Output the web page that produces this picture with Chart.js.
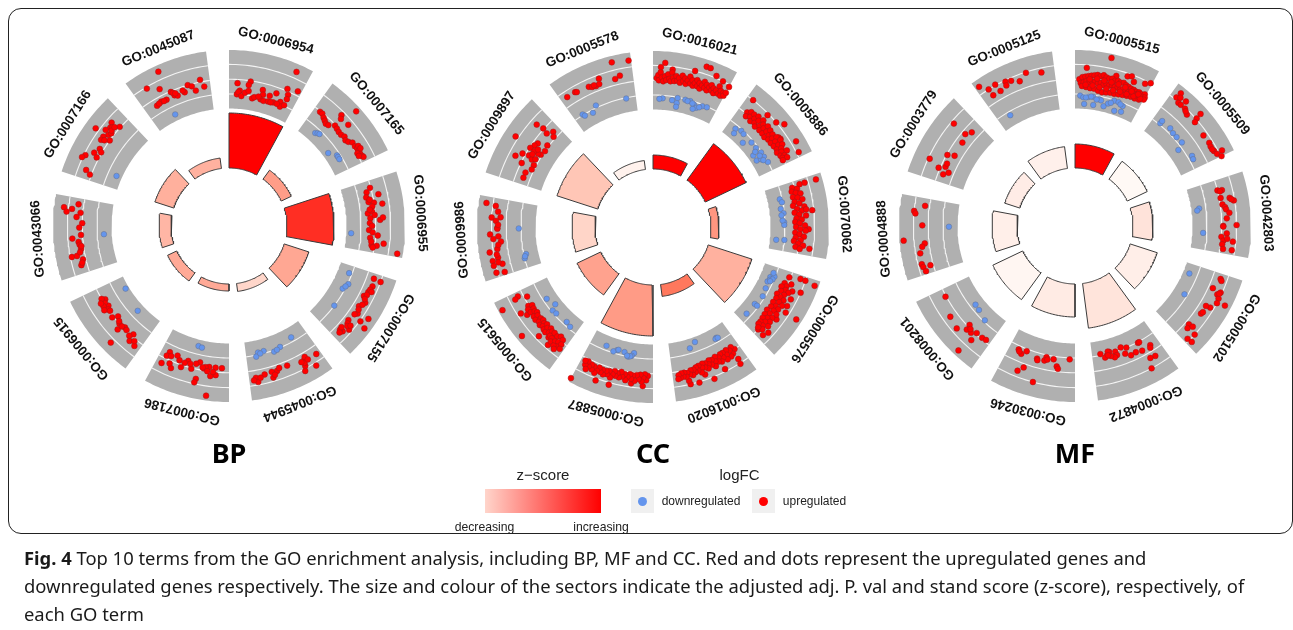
<!DOCTYPE html>
<html><head><meta charset="utf-8">
<style>
html,body{margin:0;padding:0;background:#fff;width:1293px;height:630px;overflow:hidden;font-family:"Liberation Sans",Arial,sans-serif}
canvas{position:absolute;left:0;top:0;display:block}
.t{position:absolute;white-space:nowrap;color:#111}
.c{transform:translate(-50%,-50%)}
#frame{position:absolute;left:8px;top:8px;width:1283px;height:524px;border:1px solid #222;border-radius:13px}
#cap{position:absolute;left:24px;top:544px;font:18.4px/28px "Noto Sans",sans-serif;color:#1a1a1a;white-space:nowrap}
</style></head><body>
<div id="frame"></div>
<canvas id="c" width="1293" height="630"></canvas>
<div id="cap"><b>Fig. 4</b> Top 10 terms from the GO enrichment analysis, including BP, MF and CC. Red and dots represent the upregulated genes and<br>downregulated genes respectively. The size and colour of the sectors indicate the adjusted adj. P. val and stand score (z-score), respectively, of<br>each GO term</div>
<script src="https://cdn.jsdelivr.net/npm/chart.js@4"></script>
<script>
const panels = ["BP","CC","MF"];
const bpTerms = ["GO:0006954","GO:0007165","GO:0006955","GO:0007155","GO:0045944","GO:0007186","GO:0006915","GO:0043066","GO:0007166","GO:0045087"];
const ccTerms = ["GO:0016021","GO:0005886","GO:0070062","GO:0005576","GO:0016020","GO:0005887","GO:0005615","GO:0009986","GO:0009897","GO:0005578"];
const mfTerms = ["GO:0005515","GO:0005509","GO:0042803","GO:0005102","GO:0004872","GO:0030246","GO:0008201","GO:0004888","GO:0003779","GO:0005125"];
const bpSize = [55,11,47,26,8,7,10,12,20,10.5];
const ccSize = [14,45,8,46,12,51,26,23,43,9];
const mfSize = [24,22,20,28.5,45,33,33,25,16,22];
const bpZ = [1,.57,.9,.53,.26,.52,.52,.45,.49,.48];
const ccZ = [1,1,.6,.48,.73,.58,.55,.27,.36,.06];
const mfZ = [1,.01,.17,.09,.16,.11,.03,.08,.1,.07];

const bpUp = [
[83,4.9,12,1.5,30,1.9,28,1.4,16,.5,12,0,14,.3,19,-.2,24,.3,29,.6,36,-.3,39,-.1,49,1.1,51,.5,49,-.2,54,-.3,61,.6,69,1.2,61,-.2,69,-.1,65,-.2,81,2.3,95,2.6,85,1.6,86,1,79,.3,81,-.3,86,.1,75,-.1,45,.1],
[9,1.9,13,1.9,18,1.6,22,1.4,26,1.2,30,1.3,37,1.9,42,1.8,47,1.7,52,1.7,57,1.9,62,1.7,66,1.9,33,3.5,36,3.1,48,3.3,42,5.3,70,2.3,76,2.3,80,2.4,84,2.4,88,2.4,92,2.5,94,2.6,86,2.1,90,2.1,78,2.7,82,2.8],
[15,1.3,10,1.9,22,1.1,29,1.3,31,2,36,1.7,21,2.8,34,3.1,45,1,43,1.6,55,2.6,52,3,52,1.3,59,1.2,69,1.1,76,2.3,80,1.3,90,1.6,90,2.3,86,3.2,96,5.2,26,1.5,40,1.3,48,1.9,63,1.5,72,1.6,85,1.5,93,1.8],
[7,3,8,4,17,3.2,26,3,33,2.7,40,3.3,48,2.8,57,3.2,71,2.7,63,4.1,55,4.8,67,5.1,80,3.6,87,3.1,88,2.7,22,3.1,24,3.4,30,3,36,3,44,3.1,52,3,60,2.9,75,2.9,84,2.6,91,2.9,78,3.1,75,3.4],
[6,3.1,14,4.4,23,2.9,26,3.7,29,4.3,47,2.6,62,2.8,69,2.7,69,3.5,79,2.8,91,3,89,3.6,21,2.6,25,3.3,19,3.1,28,3,58,2.5,66,3.2,85,3.1,94,3.3],
[10,1.4,18,2.4,25,2.6,19,1.4,28,1.4,35,1.7,33,1.5,42,1,47,1.3,43,3.3,44,3.8,52,2.1,59,1.2,66,2.3,71,1.5,78,2.9,76,1,88,1,92,2.8,90,1.6,27,5.3,37,1.6,22,2,30,2,55,1.5,63,1.6,84,1.4,82,2.4],
[82,1.6,72,1.7,56,2.2,52,1.5,39,2.7,43,2,34,1.8,19,1.7,17,2.7,8,2.8,33,4.6,78,1.9,75,2.3,68,2,85,2,70,2.5,80,2.4,38,2,46,1.8,30,1.9,22,2.2,12,2.3,65,1.9],
[86,4.6,85,3.5,81,4.2,92,2.7,81,2.3,75,2.8,67,2,61,2.4,47,3.4,51,2.2,42,2.6,32,2.4,24,3.8,24,3.1,18,2.4,11,2.8,38,2.5,36,2.3,14,2.6,28,2.6],
[64,4.5,82,3.3,85,2.1,76,3,67,2.6,61,3,71,2.4,62,2,56,3,45,2.5,37,2.9,42,2.1,29,3.8,25,4.1,33,2.3,12,2.9,8,2.2,78,2.8,74,2.6,80,2.6,58,2.6,70,3.3],
[40,5.1,18,3.8,32,2.9,18,1.1,26,1.3,34,1.2,22,1.2,30,1.2,44,1.9,47,1.3,51,1.1,62,1.2,69,2,74,1.7,78,1,87,2.3,91,1.3,46,1.7,60,1.5,49,1.5]];
const bpDown = [[],[24,-.7,27,-.5,30,-.4,62,-1.2,73,-.4,76,-.4,80,-.4],[75,-1.3],[12,-.4,28,.1,38,-.3,67,0,33,-.1],[24,-.6,46,-.1,57,.2,72,-.3,81,-.3,85,.2,52,.1,78,-.1],[50,-1.1,44,-1],[80,-1.5,39,-1],[50,-.9],[21,-1.2],[36,-1.1]];

const ccUp = [
[15,4.4,10,3.8,25,3.6,53,4,65,5,70,5,80,4.3,90,4,100,3.7,5,2.3,7,2.7,8,2,10,3.1,12,2.4,14,1.9,16,2.6,18,2.1,20,2.9,22,2.3,24,2,25,3.2,27,2.5,29,2.1,31,2.8,33,2.2,35,2.6,37,2,39,3,41,2.3,43,2.7,45,2,47,2.5,49,3.1,51,2.2,53,2.7,55,2,57,2.4,59,2.9,61,2.1,63,2.6,65,1.9,67,2.4,69,3,71,2.2,73,2.7,75,2,77,2.5,79,2.9,81,2.2,83,2.6,85,2,87,2.5,89,3.2,91,2.2,93,2.7,95,2.1,97,2.6,99,2.3,100,2.8],
[8,4,34,3.8,48,4,56,4.7,81,4.7,94,4.3,65,3,68,3.1,12,2.2,14,1.7,16,2.6,19,2,21,2.6,23,1.6,25,2.2,27,2.8,29,1.8,31,2.4,33,1.5,35,2.9,37,2,39,2.5,41,1.6,43,2.2,45,2.8,47,1.6,49,2.2,51,2.7,53,1.5,55,2.1,57,2.6,59,1.7,61,2.2,63,2.8,65,1.7,67,2.3,69,3,71,1.8,73,2.4,75,2.9,77,1.9,79,2.5,81,1.7,83,2.3,85,3,87,1.9,89,2.4,91,2,93,2.6,94,1.9],
[6,2.8,6,3.5,6,5.1,42,3.8,66,3.2,91,3.5,8,1.7,11,2.3,13,1.5,16,2,18,2.6,21,1.5,23,2.1,26,2.7,28,1.6,31,2.2,33,1.3,36,2.8,38,1.8,41,2.4,43,1.4,46,2,48,2.9,51,1.6,53,2.3,56,1.4,58,2,61,2.7,63,1.5,66,2.1,68,2.8,71,1.4,73,2,76,2.6,78,1.5,81,2.2,83,1.3,86,1.9,88,2.6,91,1.6,93,2.2,40,3],
[8,1.8,16,2.4,5,3.3,5,4,7,5.4,21,4,24,2.9,34,3.2,44,3.2,52,3.5,52,5.2,66,3,93,3,92,2,86,3.3,18,1.5,21,1.9,24,1.3,26,2,28,2.5,30,1.5,33,2.1,36,1.2,38,1.8,40,2.4,42,1.4,45,2,47,2.6,49,1.3,52,1.9,54,2.4,56,1.4,59,2,61,2.6,63,1.2,65,1.8,68,2.4,70,1.3,72,1.9,74,2.5,76,1.4,78,2,80,2.7,82,1.5,84,2.1,86,1.5,88,2.4,90,1.8],
[11,3.4,12,4.1,32,3.7,49,4.3,58,3.3,68,4.1,79,4,80,3.5,8,2,11,1.5,13,2.4,15,1.8,17,2.6,19,1.5,21,2.1,23,2.7,25,1.6,27,2.2,29,1.6,31,2.6,33,1.9,35,2.4,37,1.6,39,2.2,41,2.8,43,1.8,45,2.4,47,1.7,49,2.2,51,2.7,53,1.9,55,2.4,57,1.8,59,2.3,61,2.9,63,1.9,65,2.5,67,2,69,2.6,71,2.2,73,2.9,75,2.2,77,2.7,80,2.4,82,2.9,84,2.3,86,2.8,88,2.3,90,2.9,92,2.5,93,3],
[13,3.7,28,3.5,55,4.3,72,4.3,100,5.4,17,2.5,7,2.3,9,2.9,11,2.1,13,2.6,15,3.1,17,2.2,19,2.8,22,2.3,24,3.1,27,2.4,29,2.9,31,2.3,34,2.7,36,3.2,38,2.4,41,2.8,43,2.2,45,3,48,2.5,50,2.9,52,2.3,54,2.8,56,3.3,59,2.5,61,3,63,2.6,66,3.2,68,2.6,70,3,73,2.5,75,3,77,3.4,80,2.6,82,3.1,84,2.5,87,2.9,90,2.3,92,2.9,94,2.4,89,3.4],
[94,2.7,92,3.2,88,1.6,73,3.5,67,2.9,88,5.4,50,5.2,36,3.5,20,3.5,26,2.7,22,1.9,76,2.1,74,1.6,72,2.4,69,1.7,67,2.3,65,1.8,62,1.6,60,2.3,58,1.8,55,2.4,52,1.7,50,2.2,48,1.6,46,2.4,44,1.8,42,2.2,40,1.6,38,2.4,36,1.9,34,2.5,32,1.6,30,2.2,28,1.8,26,2.4,24,1.7,22,2.5,20,2.9,18,1.8,16,2.5,14,1.5,12,2.3,10,2.9,9,1.7,7,2.3,5,2.9,14,3.1,11,3.4],
[92,4.9,90,3.6,83,3.2,75,4,71,3.4,76,2.8,62,3.2,61,3.2,54,4.2,51,3.1,48,3.8,44,2.8,32,4.5,35,3.4,21,4.3,24,3.5,15,3.1,6,4.2,4,3.1,15,4.3,40,3.2,28,3.6,18,3.6,66,3.1],
[54,4.4,82,3.1,84,2.1,82,1.3,90,.8,85,.3,69,.2,63,1.4,58,1.6,52,1.9,60,0,52,.2,51,.6,51,1.2,33,3.1,40,2.4,42,1.5,39,.9,42,.5,28,1.9,33,.3,26,.3,18,.9,10,.9,56,.9,46,1.2],
[77,5.1,97,4.9,9,3.2,21,3.2,23,3.1,40,3,44,2.8,49,2.7,54,2.8,56,3.5,76,2.8,83,3.1,47,2.9]];
const ccDown = [
[15,-.4,10,-.5,30,-.5,38,-.1,38,-.8,38,-1.3,50,-.1,58,-.1,65,-.4,70,-.7,65,-1,78,-.2,85,-.1,54,-.2,62,-.3,74,-.5],
[14,-.5,17,-1.1,23,-.2,29,-.3,38,-1.2,47,-.3,58,-.3,65,-1.2,68,-.1,75,-1.2,76,-.1,86,0,77,-.6,71,-.5,80,-.4,62,-.7],
[20,-.3,25,-.1,35,-.4,42,-.1,56,-.1,60,-.1,83,0,84,-1.1,53,-.3,45,-.4],
[18,-.6,13,-.3,26,-.7,22,-.5,37,-.5,50,-.3,67,-.6,67,-.2,87,-.6,15,-.1,20,-.2,24,-.4,10,-.4],
[22,-.6,24,-.5,56,-1.3,67,-.7,20,-.5],
[30,-.6,33,-.2,38,0,45,-.5,57,-.5,62,-.2,75,-.6,35,-.1,40,-.1,55,-.6],
[70,-.5,55,-1,50,-.2,43,-.3,22,-.5,13,-.3],
[61,.3,21,-.3,15,0,18,-.1],
[],
[85,-.1,38,.3,29,-.4,14,.1,16,-.2]];

const mfUp = [
[43,5.4,15,3.6,54,3.2,68,3.6,73,3.8,78,3.2,92,3.6,98,4,6,2,10,2.3,14,2.4,18,2.5,22,2.6,26,2.7,30,2.8,34,2.7,38,2.9,42,2.7,46,2.6,50,2.7,54,2.5,58,2.6,62,2.5,66,2.6,70,2.4,74,2.3,78,2.2,82,2.2,86,2.1,90,2.2,94,2.1,98,2.3,8,1.5,12,1.6,16,1.8,20,1.7,24,1.8,28,1.9,32,1.7,36,1.8,40,1.6,44,1.8,48,1.7,52,1.8,56,1.7,60,1.7,64,1.6,68,1.8,72,1.7,76,1.6,80,1.7,84,1.7,88,1.7,92,1.6,96,1.8,100,1.9,10,1.1,16,1,22,.9,28,.9,34,.7,40,.6,46,.7,52,.8,58,.8,64,.9,70,1,76,1.1,82,1.2,88,1.2,94,1.3,100,1.6,25,1.3,35,1.2,45,1.2,55,1.2,65,1.3,75,1.3,85,1.4,95,1.5,15,1.3,30,2.3,40,2.2,50,2.2,60,2.2,70,2.1,80,1.9,90,1.9,20,2.1],
[9,5.1,8,4.3,14,3.9,18,3.9,20,4.7,25,3.9,32,3.5,43,4.9,44,4.1,46,3.6,66,3.4,78,3.5,83,3.4,90,3.5,95,3.7,100,4.1,94,4.5,12,4.6,28,3.7,87,3.4],
[14,2,15,2.6,25,2.2,27,3.4,31,3.9,34,2.3,38,2.6,41,2.7,46,3.1,53,2.7,63,2.2,62,4,64,2.2,73,2.7,78,2,83,2.3,80,2.8,88,2.2,83,3.6,94,2.4,94,3.6,16,2.3,29,3.6],
[7,3.1,22,2.6,23,3.8,27,3.5,31,3.9,37,4,35,5.1,46,3.5,47,2.9,59,2.9,56,3,80,2.5,85,2.7,79,3.1,85,4,95,3.7,94,4.4,9,3.3,25,3.7],
[27,4,15,2.8,22,2.7,13,1.2,15,1.5,27,1.3,27,.1,25,.1,36,1.1,44,1.2,46,0,51,.7,54,-.3,64,0,63,.5,67,.7,73,-.2,78,.2,81,.4,75,-.3,72,.4,87,-.2,76,.2],
[8,.2,32,.4,26,1.3,24,1.6,43,.3,45,.8,56,.8,55,1,53,4,70,2.5,76,3.2,74,.3,80,.9,86,.5,84,.7,41,.6],
[89,2.1,63,3,46,3.3,25,5.2,38,1.7,36,2.4,29,2.3,23,1.8,22,3,13,1.8,7,1.7,33,2],
[90,2.6,82,4,79,3.8,64,2.8,46,5.4,40,2.6,36,3,28,3.4,14,3.5,10,3.4,4,3.2,10,2.4],
[78,3.6,77,1.5,85,1,65,1.1,24,3.8,39,1.9,43,1,18,2.2,23,1.4,28,1.4,12,1.3,17,.7],
[5,5,13,4,14,3,23,4.1,25,3,36,3.8,35,3.3,43,3.6,53,3.1,64,3.9,83,3.4]];
const mfDown = [
[8,-.2,13,-.4,21,-.3,28,-.2,15,-1.3,30,-1.3,38,-.4,41,-.5,47,-1.2,53,-.7,61,-.1,68,-.1,76,-.4,66,-1.4,77,-1.2,17,-.4,25,-.2,34,-.5,57,-.5,72,-.3],
[13,.2,13,.6,29,.6,37,.4,45,.4,56,.5,62,-.5,81,.6,86,.5],
[35,-.9,38,-1.2,74,-.5],
[16,-1.1,49,-.4],[],[],
[55,-.7,45,-.6,27,-.2],
[62,-.8],[],
[20,-.5]];

const centers = [{x:229,y:226},{x:653,y:227},{x:1075,y:226}];
const allTerms=[bpTerms,ccTerms,mfTerms], allSize=[bpSize,ccSize,mfSize], allZ=[bpZ,ccZ,mfZ], allUp=[bpUp,ccUp,mfUp], allDown=[bpDown,ccDown,mfDown];

const STEP=36, SPAN=28.5, R_IN=117.5, R_OUT=176, R_BASE=58, R_ZERO=132, PX=7.4;
const gridLfc=[0,2,4];
const stops=[[0,[255,250,247]],[.25,[255,216,204]],[.5,[255,174,155]],[.75,[255,115,88]],[1,[255,0,0]]];
function zColor(t){for(let i=1;i<stops.length;i++){if(t<=stops[i][0]){const a=stops[i-1],b=stops[i],k=(t-a[0])/(b[0]-a[0]);return 'rgb('+a[1].map((v,j)=>Math.round(v+(b[1][j]-v)*k)).join(',')+')';}}return 'rgb(255,0,0)';}
function pol(c,deg,r){const a=deg*Math.PI/180;return {x:c.x+r*Math.sin(a),y:c.y-r*Math.cos(a)};}
function sector(c,i,r0,r1){const pts=[],n=30,s=i*STEP;for(let k=0;k<=n;k++)pts.push(pol(c,s+SPAN*k/n,r1));for(let k=n;k>=0;k--)pts.push(pol(c,s+SPAN*k/n,r0));pts.push(pts[0]);return pts;}
function arc(c,i,r){const pts=[],n=24,s=i*STEP;for(let k=0;k<=n;k++)pts.push(pol(c,s+SPAN*k/n,r));return pts;}
function dots(c,i,flat){const pts=[];for(let k=0;k<flat.length;k+=2)pts.push(pol(c,i*STEP+SPAN*flat[k]/100,R_ZERO+PX*flat[k+1]));return pts;}

const layers=[];
const line={type:'scatter',showLine:true,pointRadius:0,tension:0,borderJoinStyle:'round'};
panels.forEach((p,pi)=>{
 const c=centers[pi];
 for(let i=0;i<10;i++){
  layers.push({...line,label:p+' band '+i,data:sector(c,i,R_IN,R_OUT),fill:'shape',backgroundColor:'#b0b0b0',borderWidth:0,borderColor:'#b0b0b0'});
  gridLfc.forEach(v=>layers.push({...line,label:p+' grid',data:arc(c,i,R_ZERO+PX*v),borderColor:'#f4f4f4',borderWidth:1.1,fill:false}));
  layers.push({...line,label:p+' sector '+allTerms[pi][i],data:sector(c,i,R_BASE,R_BASE+allSize[pi][i]),fill:'shape',backgroundColor:zColor(allZ[pi][i]),borderColor:'#3a3a3a',borderWidth:1});
 }
 for(let i=0;i<10;i++){
  layers.push({type:'scatter',label:p+' down '+i,data:dots(c,i,allDown[pi][i]),pointRadius:2.8,pointBackgroundColor:'#6495ed',pointBorderColor:'#66708a',pointBorderWidth:.5,showLine:false});
  layers.push({type:'scatter',label:p+' up '+i,data:dots(c,i,allUp[pi][i]),pointRadius:2.9,pointBackgroundColor:'#ff0000',pointBorderColor:'#a01818',pointBorderWidth:.5,showLine:false});
 }
});
layers.reverse();
new Chart(document.getElementById('c'),{type:'scatter',data:{datasets:layers},options:{
 responsive:false,animation:false,devicePixelRatio:1,events:[],
 layout:{padding:0,autoPadding:false},
 plugins:{legend:{display:false},tooltip:{enabled:false}},
 scales:{x:{type:'linear',min:0,max:1293,display:false},y:{type:'linear',min:0,max:630,reverse:true,display:false}}
}});

function addText(txt,x,y,css,rot){const d=document.createElement('div');d.className='t c';d.textContent=txt;d.style.cssText='left:'+x+'px;top:'+y+'px;'+css+(rot!==undefined?';transform:translate(-50%,-50%) rotate('+rot+'deg)':'');document.body.appendChild(d);return d;}
panels.forEach((p,pi)=>{
 const c=centers[pi];
 allTerms[pi].forEach((t,i)=>{const a=i*STEP+SPAN/2,q=pol(c,a,192);addText(t,q.x,q.y,'font:bold 13.4px "Liberation Sans",sans-serif;color:#111',a);});
 addText(p,c.x,452,'font:bold 27px "Noto Sans",sans-serif;color:#000');
});
addText('z\u2212score',543,474,'font:15px "Liberation Sans",sans-serif;color:#222');
addText('logFC',739.5,474,'font:15px "Liberation Sans",sans-serif;color:#222');
addText('decreasing',484.5,527,'font:12.2px "Liberation Sans",sans-serif;color:#222');
addText('increasing',601,527,'font:12.2px "Liberation Sans",sans-serif;color:#222');
addText('downregulated',701,501,'font:12px "Liberation Sans",sans-serif;color:#222');
addText('upregulated',814.5,501,'font:12px "Liberation Sans",sans-serif;color:#222');
function box(css){const d=document.createElement('div');d.style.cssText='position:absolute;'+css;document.body.appendChild(d);}
box('left:485px;top:489px;width:116px;height:24px;background:linear-gradient(90deg,#ffd5cb,#ff0000)');
box('left:631px;top:489px;width:23px;height:24px;background:#f0f0f0');
box('left:752px;top:489px;width:23px;height:24px;background:#f0f0f0');
box('left:638px;top:496.5px;width:9px;height:9px;border-radius:50%;background:#6495ed');
box('left:759px;top:496.5px;width:9px;height:9px;border-radius:50%;background:#ff0000');
</script>
</body></html>
